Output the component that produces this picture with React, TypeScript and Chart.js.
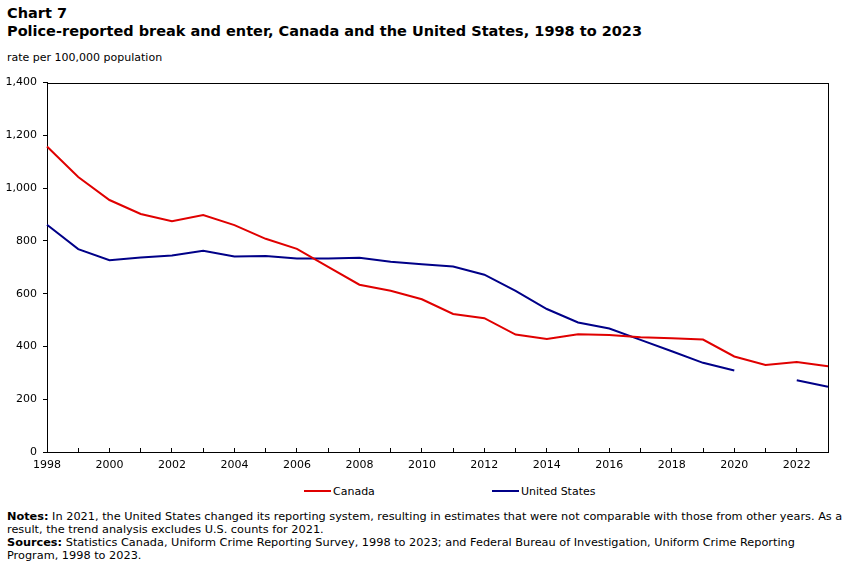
import { useEffect, useRef } from "react";
import { Chart, registerables } from "chart.js";

Chart.register(...registerables);

// Police-reported break and enter, rate per 100,000 population
const years = [
  "1998", "1999", "2000", "2001", "2002", "2003", "2004", "2005", "2006",
  "2007", "2008", "2009", "2010", "2011", "2012", "2013", "2014", "2015",
  "2016", "2017", "2018", "2019", "2020", "2021", "2022", "2023",
];
const canadaRates = [
  1158, 1042, 955, 902, 875, 898, 860, 808, 770, 702, 634, 611, 579, 523,
  507, 445, 428, 446, 443, 435, 431, 426, 362, 330, 341, 325,
];
// 2021 U.S. counts are excluded (reporting system change)
const usRates = [
  861, 769, 727, 737, 745, 763, 741, 743, 733, 733, 736, 721, 712, 703,
  672, 611, 542, 491, 468, 425, 382, 338, 309, null, 272, 247,
];
const yMin = 0;
const yMax = 1400;
const yStep = 200;

const seriesNames = ["Canada", "United States"];
const seriesColors = ["#e00000", "#000088"];

const fontFamily = "'DejaVu Sans', Verdana, sans-serif";
const axisFont = { family: fontFamily, size: 11 };

// Draws the closed box around the plotting area
const frameBox = {
  id: "frameBox",
  beforeDatasetsDraw(chart: any) {
    const { ctx, chartArea } = chart;
    ctx.save();
    ctx.strokeStyle = "#000";
    ctx.lineWidth = 1;
    ctx.strokeRect(
      Math.round(chartArea.left) + 0.5,
      Math.round(chartArea.top) + 0.5,
      Math.round(chartArea.right - chartArea.left),
      Math.round(chartArea.bottom - chartArea.top)
    );
    ctx.restore();
  },
};

function LineChart() {
  const canvasRef = useRef<HTMLCanvasElement | null>(null);

  useEffect(() => {
    if (!canvasRef.current) return;
    const chart = new Chart(canvasRef.current, {
      type: "line",
      data: {
        labels: years,
        datasets: [
          {
            label: seriesNames[0],
            data: canadaRates,
            borderColor: seriesColors[0],
            backgroundColor: seriesColors[0],
            borderWidth: 2,
            pointRadius: 0,
            tension: 0,
          },
          {
            label: seriesNames[1],
            data: usRates,
            borderColor: seriesColors[1],
            backgroundColor: seriesColors[1],
            borderWidth: 2,
            pointRadius: 0,
            tension: 0,
            spanGaps: false,
          },
        ],
      },
      options: {
        responsive: false,
        animation: false,
        devicePixelRatio: 1,
        layout: { padding: { left: 0, right: 23, top: 11, bottom: 0 } },
        plugins: {
          legend: { display: false },
          tooltip: { enabled: false },
        },
        scales: {
          x: {
            type: "category",
            offset: false,
            border: { display: true, color: "#000", width: 1 },
            grid: {
              drawOnChartArea: false,
              drawTicks: true,
              tickLength: -4,
              color: "#000",
            },
            ticks: {
              autoSkip: false,
              maxRotation: 0,
              minRotation: 0,
              padding: 11,
              color: "#000",
              font: axisFont,
              callback: (_v: any, i: number) =>
                Number(years[i]) % 2 === 0 ? years[i] : "",
            },
            afterFit: (scale: any) => {
              scale.height = 28;
            },
          },
          y: {
            min: yMin,
            max: yMax,
            border: { display: true, color: "#000", width: 1 },
            grid: {
              drawOnChartArea: false,
              drawTicks: true,
              tickLength: 4,
              color: "#000",
            },
            ticks: {
              stepSize: yStep,
              padding: 6,
              color: "#000",
              font: axisFont,
              callback: (v: any) => Number(v).toLocaleString("en-US"),
            },
            afterFit: (scale: any) => {
              scale.width = 47;
            },
          },
        },
      },
      plugins: [frameBox],
    });
    return () => chart.destroy();
  }, []);

  return (
    <canvas
      ref={canvasRef}
      width={851}
      height={410}
      style={{ position: "absolute", left: 0, top: 70, width: 851, height: 410 }}
    />
  );
}

export default function App() {
  const legendLeft = [304, 492];
  return (
    <div
      style={{
        position: "absolute",
        left: 0,
        top: 0,
        width: 851,
        height: 567,
        background: "#fff",
        overflow: "hidden",
        fontFamily,
        color: "#000",
      }}
    >
      <div
        style={{
          position: "absolute",
          left: 7,
          top: 4,
          fontSize: 14.5,
          lineHeight: "18px",
          fontWeight: "bold",
          whiteSpace: "nowrap",
        }}
      >
        Chart 7
        <br />
        Police-reported break and enter, Canada and the United States, 1998 to 2023
      </div>
      <div
        style={{
          position: "absolute",
          left: 7,
          top: 51,
          fontSize: 11,
          lineHeight: "13px",
          whiteSpace: "nowrap",
        }}
      >
        rate per 100,000 population
      </div>

      <LineChart />

      {seriesNames.map((name, i) => (
        <div
          key={name}
          style={{
            position: "absolute",
            left: legendLeft[i],
            top: 484,
            height: 14,
            display: "flex",
            alignItems: "center",
            fontSize: 11,
            whiteSpace: "nowrap",
          }}
        >
          <span
            style={{
              display: "inline-block",
              width: 27,
              height: 2,
              background: seriesColors[i],
              marginRight: 2,
            }}
          />
          {name}
        </div>
      ))}

      <div
        style={{
          position: "absolute",
          left: 7,
          top: 510,
          fontSize: 11.3,
          lineHeight: "13px",
          whiteSpace: "nowrap",
        }}
      >
        <b>Notes:</b> In 2021, the United States changed its reporting system, resulting in
        estimates that were not comparable with those from other years. As a
        <br />
        result, the trend analysis excludes U.S. counts for 2021.
        <br />
        <b>Sources:</b> Statistics Canada, Uniform Crime Reporting Survey, 1998 to 2023; and
        Federal Bureau of Investigation, Uniform Crime Reporting
        <br />
        Program, 1998 to 2023.
      </div>
    </div>
  );
}
